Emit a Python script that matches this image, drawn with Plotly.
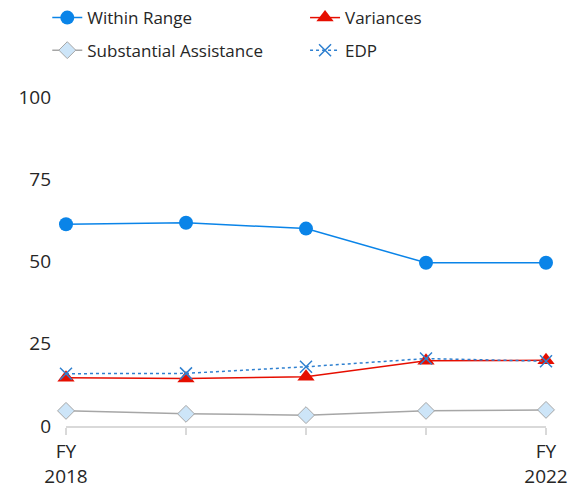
import plotly.graph_objects as go

categories = ["FY 2018", "FY 2019", "FY 2020", "FY 2021", "FY 2022"]
tick_labels = ["FY<br>2018", "", "", "", "FY<br>2022"]
within_range = [61.3, 61.8, 60.0, 49.6, 49.6]
variances = [14.7, 14.4, 15.0, 19.8, 20.0]
substantial_assistance = [4.6, 3.7, 3.3, 4.6, 4.9]
edp = [15.9, 16.0, 18.0, 20.5, 19.7]

FONT = "Open Sans"
x_idx = list(range(len(categories)))

fig = go.Figure()
fig.add_trace(go.Scatter(
    x=x_idx, y=within_range, name="Within Range", mode="lines+markers",
    line=dict(color="#0A84E8", width=1.5),
    marker=dict(symbol="circle", size=14, color="#0A84E8"),
    cliponaxis=False, legend="legend", showlegend=True))
fig.add_trace(go.Scatter(
    x=x_idx, y=variances, name="Variances", mode="lines+markers",
    line=dict(color="#E60E00", width=1.5),
    marker=dict(symbol="triangle-up", size=15, color="#E60E00"),
    cliponaxis=False, legend="legend2", showlegend=True))
fig.add_trace(go.Scatter(
    x=x_idx, y=substantial_assistance, name="Substantial Assistance", mode="lines+markers",
    line=dict(color="#A6A6A6", width=1.5),
    marker=dict(symbol="diamond", size=13, color="#CDE5F8",
                line=dict(color="#A6A6A6", width=1)),
    cliponaxis=False, legend="legend3", showlegend=True))
fig.add_trace(go.Scatter(
    x=x_idx, y=edp, name="EDP", mode="lines+markers",
    line=dict(color="#2F80D0", width=1.5, dash="dot"),
    marker=dict(symbol="x-thin", size=12, color="#2F80D0",
                line=dict(color="#2F80D0", width=1.5)),
    cliponaxis=False, legend="legend4", showlegend=True))

legend_common = dict(orientation="h", xanchor="left", yanchor="middle",
                     font=dict(family=FONT, size=17, color="#262626"),
                     bgcolor="rgba(0,0,0,0)")

col1_x = -0.039
col2_x = 0.498
row1_y = 1.240
row2_y = 1.141

# the page adds an 8px body margin, so the figure is 8px smaller on each axis
fig.update_layout(
    width=576, height=483,
    showlegend=True,
    margin=dict(l=58, r=38, t=88.5, b=65, autoexpand=False),
    paper_bgcolor="white", plot_bgcolor="white",
    font=dict(family=FONT, size=19, color="#262626"),
    legend=dict(x=col1_x, y=row1_y, **legend_common),
    legend2=dict(x=col2_x, y=row1_y, **legend_common),
    legend3=dict(x=col1_x, y=row2_y, **legend_common),
    legend4=dict(x=col2_x, y=row2_y, **legend_common),
    xaxis=dict(
        range=[0, 4], tickmode="array", tickvals=x_idx, ticktext=tick_labels,
        showgrid=False, zeroline=False, showline=True,
        linecolor="#D9D9D9", linewidth=2,
        ticks="outside", ticklen=7, tickwidth=2, tickcolor="#D9D9D9",
        tickfont=dict(family=FONT, size=19, color="#262626"),
    ),
    yaxis=dict(
        range=[0, 100], tickvals=[0, 25, 50, 75, 100],
        showgrid=False, zeroline=False, showline=False,
        ticks="", ticklabelstandoff=14,
        tickfont=dict(family=FONT, size=19, color="#262626"),
    ),
)

fig.write_html("out.html")
